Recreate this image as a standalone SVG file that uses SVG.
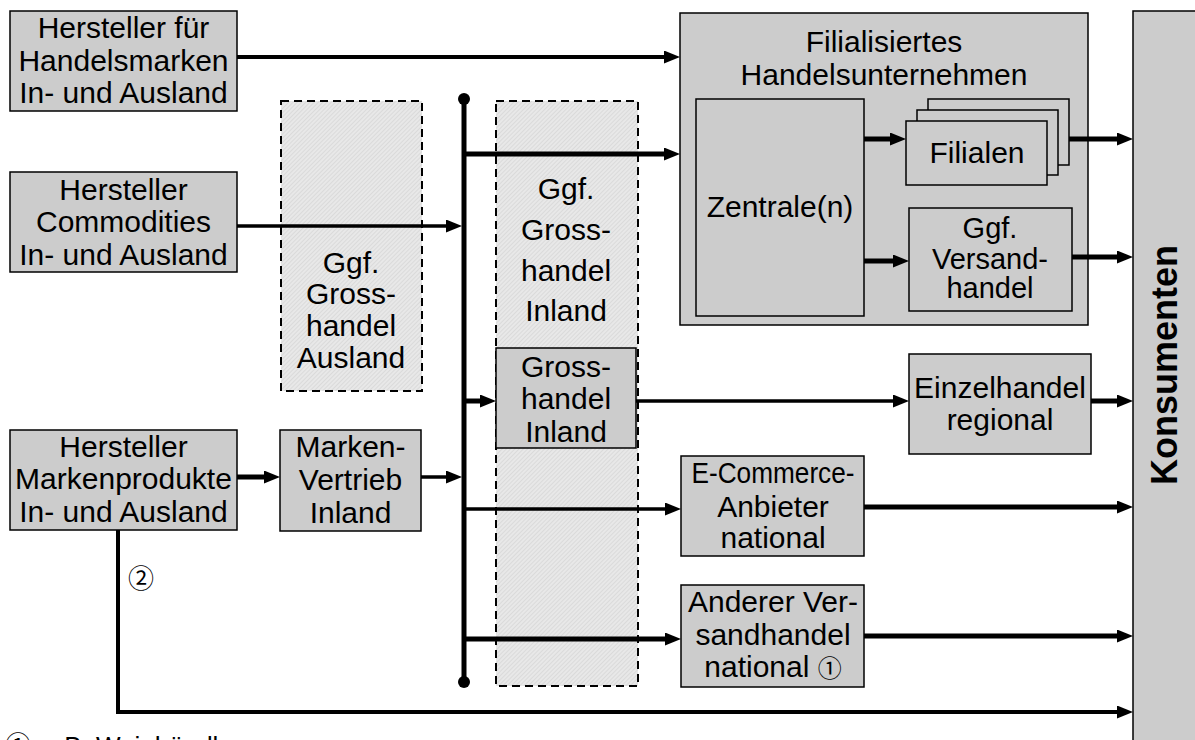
<svg xmlns="http://www.w3.org/2000/svg" width="1195" height="740" viewBox="0 0 1195 740">
<style>
.box{fill:#cccccc;stroke:#000;stroke-width:1.5}
.dash{fill:url(#hatch);stroke:#000;stroke-width:2;stroke-dasharray:8 5}
.t{font-family:"Liberation Sans",Arial,sans-serif;font-size:30px;text-anchor:middle;fill:#000}
.sym{font-family:"Noto Sans CJK JP","DejaVu Sans",sans-serif}
.c{fill:none;stroke:#000;stroke-width:5}
.m{fill:none;stroke:#000;stroke-width:3.5}
.a{marker-end:url(#ah)}
</style>
<defs>
<pattern id="hatch" patternUnits="userSpaceOnUse" width="3" height="3" patternTransform="rotate(45)">
<rect width="3" height="3" fill="#e8e8e8"/>
<line x1="0" y1="0" x2="0" y2="3" stroke="#cdcdcd" stroke-width="1"/>
</pattern>
<marker id="ah" markerUnits="userSpaceOnUse" markerWidth="16" markerHeight="13" refX="6" refY="6.5" orient="auto">
<path d="M0,0 L16,6.5 L0,13 z" fill="#000"/>
</marker>
</defs>

<g id="konsumenten">
<rect class="box" x="1133" y="11" width="70" height="740"/>
<text class="t" style="font-weight:bold;font-size:36px" transform="translate(1177,365) rotate(-90)">Konsumenten</text>
</g>

<g id="gh-ausland">
<rect class="dash" x="281" y="101" width="141" height="290"/>
<text class="t" x="351" y="273">Ggf.</text>
<text class="t" x="351" y="304">Gross-</text>
<text class="t" x="351" y="336">handel</text>
<text class="t" x="351" y="368">Ausland</text>
</g>

<g id="gh-inland-opt">
<rect class="dash" x="496" y="101" width="142" height="585"/>
<text class="t" x="566" y="199">Ggf.</text>
<text class="t" x="566" y="240">Gross-</text>
<text class="t" x="566" y="281">handel</text>
<text class="t" x="566" y="321">Inland</text>
</g>

<g id="hersteller-handelsmarken">
<rect class="box" x="10" y="11" width="227" height="100"/>
<text class="t" x="123.5" y="38">Hersteller für</text>
<text class="t" x="123.5" y="71">Handelsmarken</text>
<text class="t" x="123.5" y="103">In- und Ausland</text>
</g>

<g id="hersteller-commodities">
<rect class="box" x="10" y="172" width="227" height="100"/>
<text class="t" x="123.5" y="200">Hersteller</text>
<text class="t" x="123.5" y="232">Commodities</text>
<text class="t" x="123.5" y="265">In- und Ausland</text>
</g>

<g id="hersteller-markenprodukte">
<rect class="box" x="10" y="430" width="227" height="100"/>
<text class="t" x="123.5" y="457">Hersteller</text>
<text class="t" x="123.5" y="489">Markenprodukte</text>
<text class="t" x="123.5" y="522">In- und Ausland</text>
</g>

<g id="marken-vertrieb">
<rect class="box" x="280" y="430" width="141" height="101"/>
<text class="t" x="350.5" y="457">Marken-</text>
<text class="t" x="350.5" y="490">Vertrieb</text>
<text class="t" x="350.5" y="523">Inland</text>
</g>

<g id="grosshandel-inland">
<rect class="box" x="496" y="348" width="140" height="100"/>
<text class="t" x="566" y="377">Gross-</text>
<text class="t" x="566" y="409">handel</text>
<text class="t" x="566" y="442">Inland</text>
</g>

<g id="filialisiertes">
<rect class="box" x="680" y="13" width="408" height="312"/>
<text class="t" x="884" y="52">Filialisiertes</text>
<text class="t" x="884" y="85">Handelsunternehmen</text>
<g id="zentrale">
<rect class="box" x="696" y="99" width="168" height="217"/>
<text class="t" x="780" y="217">Zentrale(n)</text>
</g>
<g id="filialen">
<rect class="box" x="928" y="99" width="141" height="66"/>
<rect class="box" x="917" y="110" width="141" height="65"/>
<rect class="box" x="906" y="121" width="141" height="64"/>
<text class="t" x="977" y="163">Filialen</text>
</g>
<g id="versandhandel">
<rect class="box" x="909" y="208" width="163" height="103"/>
<text class="t" x="990" y="238" style="font-size:29px">Ggf.</text>
<text class="t" x="990" y="269" style="font-size:29px">Versand-</text>
<text class="t" x="990" y="298" style="font-size:29px">handel</text>
</g>
</g>

<g id="einzelhandel">
<rect class="box" x="909" y="354" width="182" height="100"/>
<text class="t" x="1000" y="398">Einzelhandel</text>
<text class="t" x="1000" y="430">regional</text>
</g>

<g id="ecommerce">
<rect class="box" x="681" y="456" width="183" height="100"/>
<text class="t" x="773" y="483" textLength="163" lengthAdjust="spacingAndGlyphs">E-Commerce-</text>
<text class="t" x="773" y="517">Anbieter</text>
<text class="t" x="773" y="548">national</text>
</g>

<g id="anderer-versandhandel">
<rect class="box" x="681" y="585" width="183" height="102"/>
<text class="t" x="773" y="612">Anderer Ver-</text>
<text class="t" x="773" y="645">sandhandel</text>
<text class="t" x="773" y="677">national <tspan class="sym" style="font-size:24px">①</tspan></text>
</g>

<g id="connectors">
<line x1="464" y1="99" x2="464" y2="682" stroke="#000" stroke-width="5"/>
<circle cx="464" cy="99" r="6"/>
<circle cx="464" cy="682" r="6"/>
<path class="a" d="M237,57 H670" fill="none" stroke="#000" stroke-width="4"/>
<path class="m a" d="M237,226 H452"/>
<path class="c a" d="M464,154 H670"/>
<path class="c a" d="M464,401 H486"/>
<path class="m a" d="M636,401 H899"/>
<path class="c a" d="M237,477 H270"/>
<path class="m a" d="M421,477 H452"/>
<path class="m a" d="M464,509 H671"/>
<path class="c a" d="M464,639 H671"/>
<path class="c a" d="M864,139 H896"/>
<path class="c a" d="M864,261 H899"/>
<path class="c a" d="M1069,139 H1123"/>
<path class="c a" d="M1072,257 H1123"/>
<path class="c a" d="M1091,401 H1123"/>
<path class="c a" d="M864,507 H1123"/>
<path class="c a" d="M864,636 H1123"/>
<path class="a" d="M118,530 V712 H1123" fill="none" stroke="#000" stroke-width="4"/>
<text class="t sym" x="141" y="588" style="font-size:26px">②</text>
</g>

<g id="footnote">
<text class="t sym" x="5" y="755" style="text-anchor:start;font-size:26px">①</text>
<text class="t" x="44" y="755" style="text-anchor:start;font-size:26px">z.B. Weinhändler</text>
</g>
</svg>
